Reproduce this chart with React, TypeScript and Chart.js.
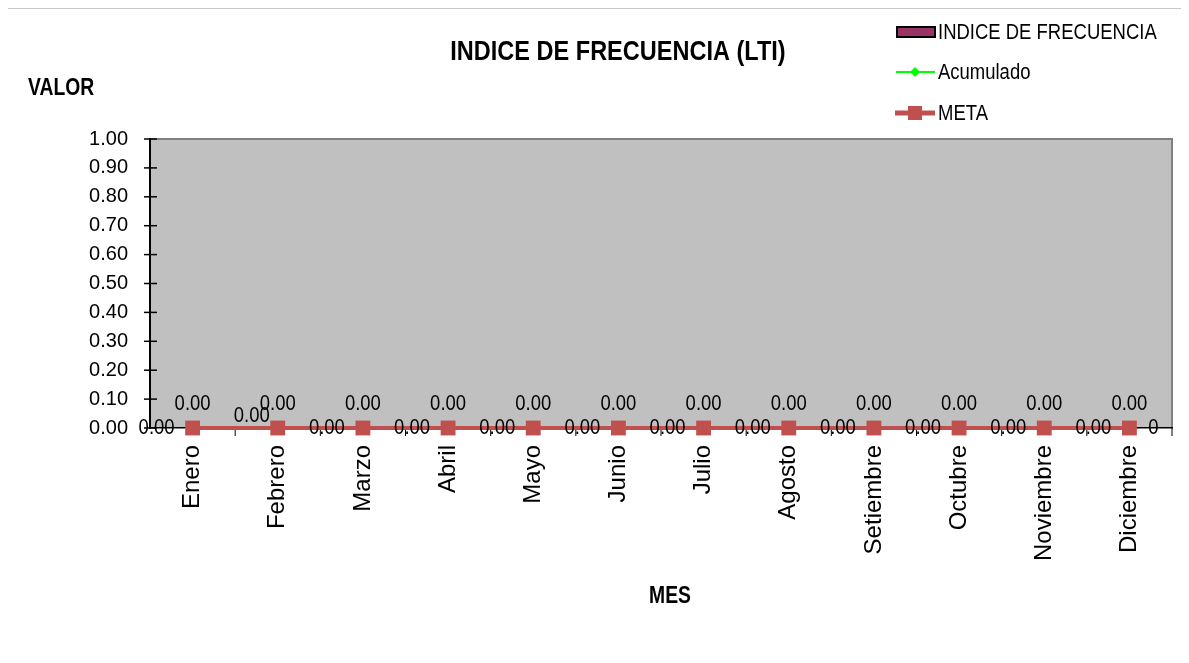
import React, { useEffect, useRef } from "react";
import { Chart, registerables } from "chart.js";

Chart.register(...registerables);

const categories = ["Enero", "Febrero", "Marzo", "Abril", "Mayo", "Junio", "Julio", "Agosto", "Setiembre", "Octubre", "Noviembre", "Diciembre"];
const indiceValues = [0, 0, 0, 0, 0, 0, 0, 0, 0, 0, 0, 0];
const acumuladoValues = [0, 0, 0, 0, 0, 0, 0, 0, 0, 0, 0, 0];
const metaValues = [0, 0, 0, 0, 0, 0, 0, 0, 0, 0, 0, 0];
const yMin = 0;
const yMax = 1;
const yStep = 0.1;

const REGULAR = '"Liberation Sans", Arial, sans-serif';
const SQ = 0.84;

function sqText(ctx: CanvasRenderingContext2D, text: string, x: number, y: number, align: CanvasTextAlign) {
  ctx.save();
  ctx.translate(x, y);
  ctx.scale(SQ, 1);
  ctx.textAlign = align;
  ctx.textBaseline = "middle";
  ctx.fillText(text, 0, 0);
  ctx.restore();
}

const decorPlugin = {
  id: "decor",
  beforeDraw(chart: any) {
    const { ctx, chartArea: a } = chart;
    ctx.save();
    ctx.fillStyle = "#C0C0C0";
    ctx.fillRect(a.left, a.top, a.right - a.left, a.bottom - a.top);
    ctx.strokeStyle = "#808080";
    ctx.lineWidth = 2;
    ctx.beginPath();
    ctx.moveTo(a.left, a.top);
    ctx.lineTo(a.right, a.top);
    ctx.lineTo(a.right, a.bottom);
    ctx.stroke();
    ctx.restore();
  },
  beforeDatasetsDraw(chart: any) {
    const { ctx, chartArea: a, scales } = chart;
    ctx.save();
    ctx.strokeStyle = "#000";
    ctx.lineWidth = 1.5;
    scales.y.ticks.forEach((t: any) => {
      const y = scales.y.getPixelForValue(t.value);
      ctx.beginPath();
      ctx.moveTo(a.left - 6, y);
      ctx.lineTo(a.left + 7, y);
      ctx.stroke();
    });
    ctx.lineWidth = 1;
    const n = categories.length;
    for (let i = 1; i <= n; i++) {
      const xx = i < n ? (scales.x.getPixelForValue(i - 1) + scales.x.getPixelForValue(i)) / 2 : a.right;
      ctx.beginPath();
      ctx.moveTo(xx, a.bottom);
      ctx.lineTo(xx, a.bottom + 8);
      ctx.stroke();
    }
    ctx.restore();
  },
  afterDraw(chart: any) {
    const { ctx } = chart;
    ctx.save();
    ctx.fillStyle = "#000";
    ctx.font = `22px ${REGULAR}`;
    const ds = chart.data.datasets;
    chart.getDatasetMeta(0).data.forEach((el: any, i: number) => {
      sqText(ctx, Number(ds[0].data[i]).toFixed(2), el.x, el.y - 24, "center");
    });
    chart.getDatasetMeta(1).data.forEach((el: any, i: number) => {
      const t = Number(ds[1].data[i]).toFixed(2);
      if (i === 1) sqText(ctx, t, el.x - 26, el.y - 12, "center");
      else sqText(ctx, t, el.x - 36, el.y, "center");
    });
    const mm = chart.getDatasetMeta(2).data;
    const last = mm[mm.length - 1];
    if (last) sqText(ctx, String(ds[2].data[mm.length - 1]), last.x + 24, last.y, "center");

    ctx.font = `bold 28px ${REGULAR}`;
    sqText(ctx, "INDICE DE FRECUENCIA (LTI)", 610, 43, "center");
    ctx.font = `bold 23px ${REGULAR}`;
    sqText(ctx, "VALOR", 20, 80, "left");
    sqText(ctx, "MES", 662, 588, "center");

    // legend
    ctx.font = `22px ${REGULAR}`;
    ctx.fillStyle = ds[0].backgroundColor;
    ctx.fillRect(889, 18, 38, 10);
    ctx.strokeStyle = "#000";
    ctx.lineWidth = 2;
    ctx.strokeRect(889, 18, 38, 10);
    ctx.fillStyle = "#000";
    sqText(ctx, ds[0].label, 930, 24, "left");

    ctx.strokeStyle = ds[1].borderColor;
    ctx.lineWidth = 2;
    ctx.beginPath();
    ctx.moveTo(888, 63);
    ctx.lineTo(927, 63);
    ctx.stroke();
    ctx.fillStyle = ds[1].borderColor;
    ctx.beginPath();
    ctx.moveTo(907, 58);
    ctx.lineTo(912, 63);
    ctx.lineTo(907, 68);
    ctx.lineTo(902, 63);
    ctx.closePath();
    ctx.fill();
    ctx.fillStyle = "#000";
    sqText(ctx, ds[1].label, 930, 64, "left");

    ctx.strokeStyle = ds[2].borderColor;
    ctx.lineWidth = 5;
    ctx.beginPath();
    ctx.moveTo(887, 104);
    ctx.lineTo(927, 104);
    ctx.stroke();
    ctx.fillStyle = ds[2].borderColor;
    ctx.fillRect(900, 97, 14, 14);
    ctx.fillStyle = "#000";
    sqText(ctx, ds[2].label, 930, 105, "left");
    ctx.restore();
  },
};

export default function App() {
  const ref = useRef<HTMLCanvasElement | null>(null);
  useEffect(() => {
    if (!ref.current) return;
    const chart = new Chart(ref.current, {
      type: "bar",
      data: {
        labels: categories,
        datasets: [
          {
            type: "bar",
            label: "INDICE DE FRECUENCIA",
            data: indiceValues,
            backgroundColor: "#993366",
            borderColor: "#000000",
            borderWidth: 0,
            order: 2,
          } as any,
          {
            type: "line",
            label: "Acumulado",
            data: acumuladoValues,
            borderColor: "#00FF00",
            backgroundColor: "#00FF00",
            borderWidth: 2,
            pointStyle: "rectRot",
            pointRadius: 5,
            clip: false,
            order: 1,
          },
          {
            type: "line",
            label: "META",
            data: metaValues,
            borderColor: "#C0504D",
            backgroundColor: "#C0504D",
            borderWidth: 4,
            pointStyle: "rect",
            pointRadius: 10.5,
            pointBorderWidth: 0,
            clip: false,
            order: 0,
          },
        ],
      },
      options: {
        animation: false,
        responsive: false,
        maintainAspectRatio: false,
        layout: { padding: { left: 0, top: 130, right: 17, bottom: 0 } },
        plugins: { legend: { display: false }, tooltip: { enabled: false }, title: { display: false } },
        scales: {
          x: {
            offset: true,
            grid: { display: false, drawTicks: false },
            border: { display: true, color: "#000", width: 1.5 },
            ticks: { color: "#000", font: { family: REGULAR, size: 24 }, minRotation: 90, maxRotation: 90, padding: 17, autoSkip: false },
            afterFit: (s: any) => { s.height = 235; },
          },
          y: {
            min: yMin,
            max: yMax,
            grid: { display: false, drawTicks: false },
            border: { display: true, color: "#000", width: 2 },
            ticks: { stepSize: yStep, autoSkip: false, color: "#000", font: { family: REGULAR, size: 20 }, padding: 22, callback: (v: any) => Number(v).toFixed(2) },
            afterFit: (s: any) => { s.width = 142; },
          },
        },
      },
      plugins: [decorPlugin],
    });
    return () => chart.destroy();
  }, []);
  return (
    <div style={{ marginLeft: -1, width: 1181, height: 654, borderLeft: "1px solid #000", borderTop: "1px solid #c8c8c8" }}>
      <canvas ref={ref} width={1181} height={654} style={{ display: "block", width: 1181, height: 654 }} />
    </div>
  );
}
